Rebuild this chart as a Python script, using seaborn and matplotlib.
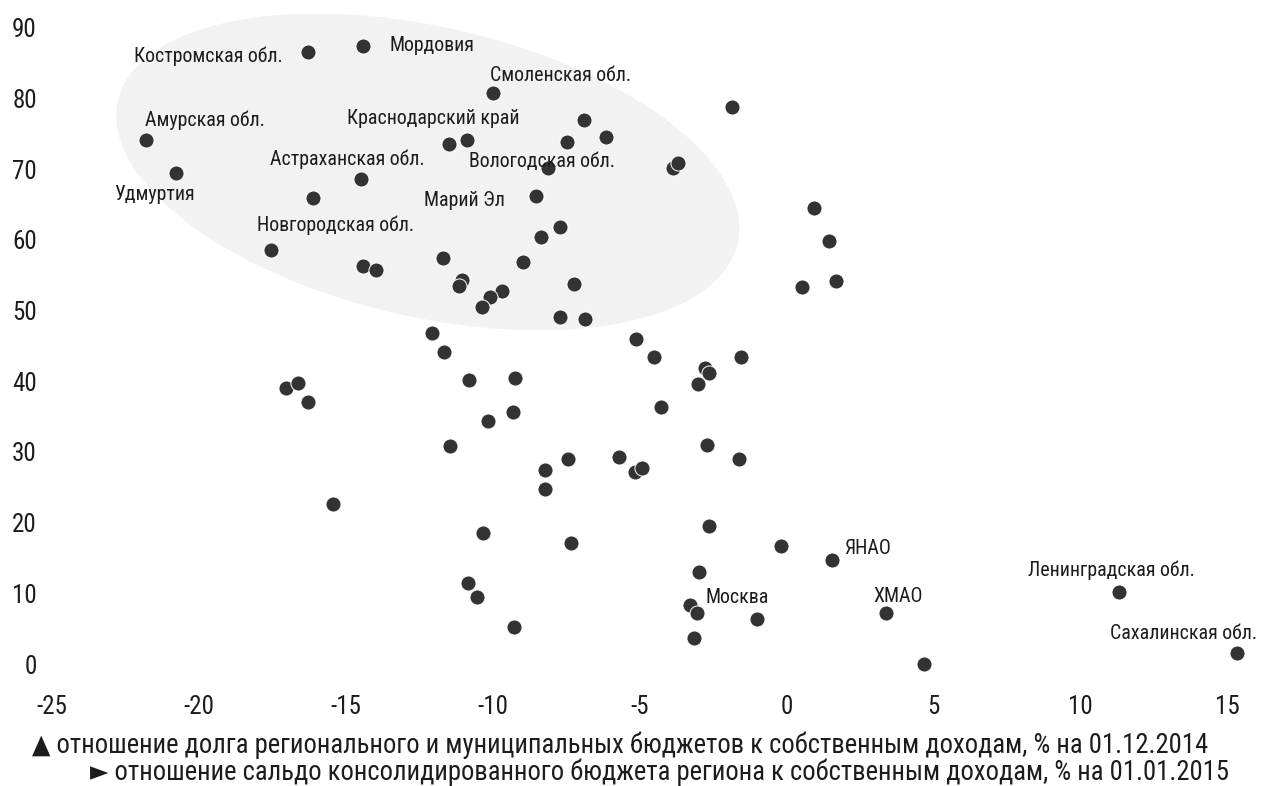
import matplotlib
matplotlib.use('Agg')
import matplotlib.pyplot as plt
import matplotlib.transforms as mtransforms
from matplotlib import font_manager as fm
from matplotlib.patches import Ellipse
import pandas as pd
import seaborn as sns

# --- данные ---
# сальдо консолидированного бюджета к собственным доходам, % (ось X)
saldo = [-16.29, -14.42, -10.00, -1.87, -6.90, -6.16, -7.48, -11.50, -10.88, -21.80,
         -20.78, -8.13, -3.88, -3.71, -14.49, -16.12, -8.54, -7.72, -8.37, 0.95,
         1.43, -17.55, -14.42, -13.98, -11.70, -8.98, -11.05, -11.16, -7.24, -9.69,
         -10.10, -10.37, 0.54, 1.67, -7.72, -6.87, -12.07, -11.67, -17.04, -16.63,
         -16.29, -10.82, -9.25, -10.17, -9.32, -11.46, -5.14, -4.52, -1.56, -2.79,
         -2.65, -3.03, -4.29, -7.45, -8.23, -8.23, -5.71, -5.17, -4.93, -2.72,
         -1.63, -15.44, -10.34, -7.35, -2.65, -0.20, 1.53, -10.85, -10.54, -9.29,
         -2.99, -3.30, -3.06, -1.02, -3.16, 3.40, 4.69, 11.33, 15.34]
# долг регионального и муниципальных бюджетов к собственным доходам, % (ось Y)
dolg = [86.6, 87.4, 80.8, 78.8, 76.9, 74.5, 73.8, 73.6, 74.1, 74.1,
        69.4, 70.2, 70.2, 70.9, 68.6, 65.9, 66.2, 61.8, 60.4, 64.5,
        59.8, 58.6, 56.3, 55.7, 57.4, 56.9, 54.3, 53.5, 53.7, 52.8,
        51.9, 50.5, 53.3, 54.2, 49.1, 48.8, 46.8, 44.1, 39.0, 39.7,
        37.1, 40.2, 40.5, 34.4, 35.6, 30.8, 46.0, 43.4, 43.4, 41.9,
        41.2, 39.6, 36.4, 29.0, 27.4, 24.8, 29.3, 27.2, 27.7, 31.0,
        29.0, 22.6, 18.5, 17.1, 19.5, 16.7, 14.7, 11.5, 9.5, 5.2,
        13.0, 8.3, 7.2, 6.4, 3.7, 7.2, 0.0, 10.2, 1.6]

# подписи регионов: номер точки -> название
label_idx = [0, 1, 2, 9, 10, 7, 14, 11, 16, 21, 72, 66, 75, 77, 78]
label_txt = ['Костромская обл.', 'Мордовия', 'Смоленская обл.', 'Амурская обл.',
             'Удмуртия', 'Краснодарский край', 'Астраханская обл.',
             'Вологодская обл.', 'Марий Эл', 'Новгородская обл.', 'Москва',
             'ЯНАО', 'ХМАО', 'Ленинградская обл.', 'Сахалинская обл.']
# смещение подписи от точки в пикселях и выравнивание
label_off = [(-25, -4, 'right'), (27, 1, 'left'), (-3, 17, 'left'), (-1, 20, 'left'),
             (19, -21, 'right'), (-15, 25, 'center'), (-13, 20, 'center'),
             (-6, 6, 'center'), (-31, -5, 'right'), (-14, 24, 'left'), (9, 16, 'left'),
             (13, 12, 'left'), (12, 17, 'center'), (-8, 22, 'center'), (20, 19, 'right')]

xticks = list(range(-25, 16, 5))
yticks = list(range(0, 91, 10))
note1 = '▲ отношение долга регионального и муниципальных бюджетов к собственным доходам, % на 01.12.2014'
note2 = '► отношение сальдо консолидированного бюджета региона к собственным доходам, % на 01.01.2015'

df = pd.DataFrame({'saldo': saldo, 'dolg': dolg})

# шрифт: узкий, если есть
names = {f.name for f in fm.fontManager.ttflist}
narrow = next((n for n in ['Liberation Sans Narrow', 'Roboto Condensed',
                           'Open Sans Condensed', 'DejaVu Sans'] if n in names), 'DejaVu Sans')

sns.set_style('white')
plt.rcParams['font.family'] = [narrow, 'DejaVu Sans']
plt.rcParams['font.stretch'] = 'condensed'
plt.rcParams['axes.unicode_minus'] = False

ink = '#1c1c1c'
fig = plt.figure(figsize=(12.65, 7.86), dpi=100)
ax = fig.add_axes([0.0411, 0.1417, 0.950, 0.841])

# серый эллипс вокруг группы регионов (размеры в дюймах)
ell_center = (-12.21, 69.6)
ell_tr = fig.dpi_scale_trans + mtransforms.ScaledTranslation(ell_center[0], ell_center[1], ax.transData)
ax.add_patch(Ellipse((0, 0), 6.36, 2.90, angle=-13, transform=ell_tr,
                     facecolor='#f2f2f2', edgecolor='none', zorder=0))

sns.scatterplot(data=df, x='saldo', y='dolg', color='#333333', s=118,
                edgecolor='white', linewidth=0.7, ax=ax, zorder=3, clip_on=False)

for i, txt, (dx, dy, ha) in zip(label_idx, label_txt, label_off):
    ax.annotate(txt, (saldo[i], dolg[i]), xytext=(dx * 0.72, dy * 0.72),
                textcoords='offset points', ha=ha, va='center',
                fontsize=14.3, color=ink, zorder=4)

ax.set_xlim(-25, 15.9)
ax.set_ylim(-1.5, 92)
ax.set_xticks(xticks)
ax.set_yticks(yticks)
ax.set_xlabel('')
ax.set_ylabel('')
ax.tick_params(axis='both', length=0, labelsize=18, colors=ink)
ax.tick_params(axis='x', pad=14.5)
ax.tick_params(axis='y', pad=10.8)
sns.despine(ax=ax, left=True, bottom=True)

fig.text(32 / 1265, 1 - 745 / 786, note1, ha='left', va='center', fontsize=19.2, color=ink)
fig.text(90 / 1265, 1 - 772 / 786, note2, ha='left', va='center', fontsize=19.2, color=ink)

fig.savefig('out.png', dpi=100)
